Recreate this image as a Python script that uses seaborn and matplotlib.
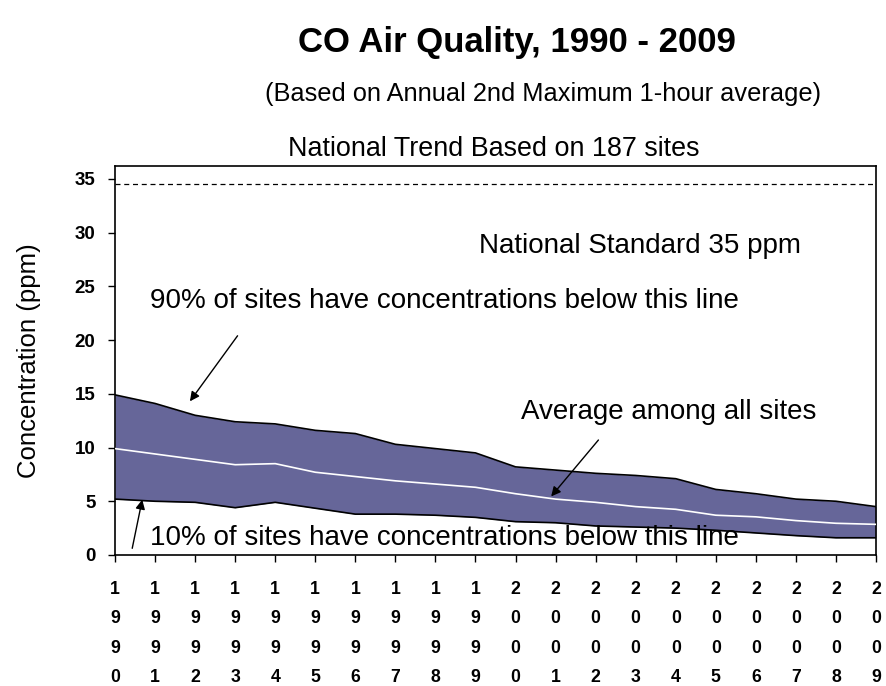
import numpy as np
import pandas as pd
import matplotlib
matplotlib.use('Agg')
import matplotlib.pyplot as plt
import seaborn as sns

# Valores (ppm)
years = list(range(1990, 2010))
pct90 = [14.9, 14.1, 13.0, 12.4, 12.2, 11.6, 11.3, 10.3, 9.9, 9.5,
         8.2, 7.9, 7.6, 7.4, 7.1, 6.1, 5.7, 5.2, 5.0, 4.5]
mean = [9.9, 9.4, 8.9, 8.4, 8.5, 7.7, 7.3, 6.9, 6.6, 6.3,
        5.7, 5.2, 4.9, 4.5, 4.25, 3.7, 3.55, 3.2, 2.95, 2.85]
pct10 = [5.2, 5.0, 4.9, 4.4, 4.9, 4.35, 3.8, 3.8, 3.7, 3.5,
         3.1, 3.0, 2.7, 2.6, 2.5, 2.3, 2.05, 1.8, 1.6, 1.6]
standard = 34.5
y_ticks = [0, 5, 10, 15, 20, 25, 30, 35]

df = pd.DataFrame({'idx': np.arange(len(years)), 'year': years,
                   'p90': pct90, 'mean': mean, 'p10': pct10})

sns.set_theme(style='ticks')
plt.rcParams['font.family'] = ['Liberation Sans', 'DejaVu Sans']
for k in ['text.color', 'axes.labelcolor', 'xtick.color', 'ytick.color', 'axes.edgecolor']:
    plt.rcParams[k] = 'black'

fig = plt.figure(figsize=(8.86, 6.86), dpi=100)
ax = fig.add_axes([0.1298, 0.191, 0.8589, 0.567])

ax.fill_between(df['idx'], df['p10'], df['p90'], color='#666699', lw=0, zorder=1)
sns.lineplot(data=df, x='idx', y='p90', color='black', lw=1.2, ax=ax, zorder=3)
sns.lineplot(data=df, x='idx', y='p10', color='black', lw=1.2, ax=ax, zorder=3)
sns.lineplot(data=df, x='idx', y='mean', color='white', lw=1.2, ax=ax, zorder=3)
ax.axhline(standard, color='black', ls=(0, (4, 3)), lw=0.9, zorder=2)

ax.set_xlim(0, len(years) - 1)
ax.set_ylim(0, 36.2)
ax.set_yticks(y_ticks)
ax.set_yticklabels([str(t) for t in y_ticks], fontsize=13.5, fontweight='bold')
ax.set_xticks(df['idx'])
ax.set_xticklabels(['\n'.join(str(y)) for y in years], fontsize=12.7,
                   fontweight='bold', linespacing=1.93)
ax.tick_params(axis='both', direction='out', length=5, width=1, color='black')
ax.tick_params(axis='x', pad=14)
ax.tick_params(axis='y', pad=9)
for s in ax.spines.values():
    s.set_visible(True)
    s.set_color('black')
    s.set_linewidth(1.2)

ax.set_xlabel('')
ax.set_ylabel('Concentration (ppm)', fontsize=18.5, labelpad=24)

# Textos e setas
arrow = dict(arrowstyle='-|>', color='black', lw=1, shrinkA=0, shrinkB=0,
             mutation_scale=14)
ax.text(13.1, 28.8, 'National Standard 35 ppm', fontsize=20, ha='center', va='center')
ax.text(0.874, 23.65, '90% of sites have concentrations below this line',
        fontsize=20, ha='left', va='center')
ax.annotate('', xy=(1.87, 14.3), xytext=(3.06, 20.4), arrowprops=arrow)
ax.text(13.83, 13.3, 'Average among all sites', fontsize=20, ha='center', va='center')
ax.annotate('', xy=(10.89, 5.45), xytext=(12.07, 10.7), arrowprops=arrow)
ax.annotate('', xy=(0.68, 5.15), xytext=(0.43, 0.62), arrowprops=arrow)
ax.text(0.874, 1.6, '10% of sites have concentrations below this line',
        fontsize=20, ha='left', va='center')

fig.text(0.5835, 0.938, 'CO Air Quality, 1990 - 2009', fontsize=25,
         fontweight='bold', ha='center', va='center')
fig.text(0.6134, 0.863, '(Based on Annual 2nd Maximum 1-hour average)',
         fontsize=18.3, ha='center', va='center')
fig.text(0.557, 0.783, 'National Trend Based on 187 sites',
         fontsize=19.4, ha='center', va='center')

plt.savefig('out.png', dpi=100)
